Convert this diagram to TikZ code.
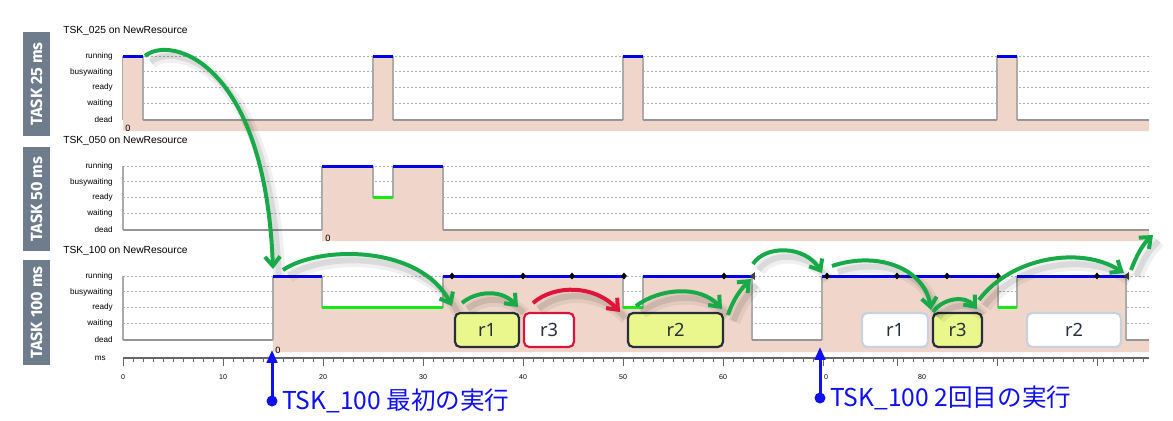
\documentclass[tikz,border=0pt]{standalone}
\usepackage{fontspec}
\setmainfont{Liberation Sans}
\newfontfamily\jpfont{Noto Sans CJK JP}
\newfontfamily\boxfont{Fira Sans}
\newfontfamily\resfont{Noto Sans}
\usetikzlibrary{positioning,calc,arrows.meta,shapes.geometric}
\definecolor{pinkfill}{RGB}{240,214,202}
\definecolor{taskgray}{RGB}{110,124,140}
\definecolor{runblue}{RGB}{0,0,230}
\definecolor{readygreen}{RGB}{20,235,20}
\definecolor{deadgray}{RGB}{150,150,150}
\definecolor{gridgray}{RGB}{175,175,175}
\definecolor{flowgreen}{RGB}{24,170,72}
\definecolor{flowred}{RGB}{222,20,58}
\definecolor{execblue}{RGB}{15,15,240}
\definecolor{resyellow}{RGB}{233,247,140}
\definecolor{resedge}{RGB}{38,46,58}
\definecolor{resred}{RGB}{220,20,60}
\definecolor{residle}{RGB}{200,210,222}

\begin{document}
\begin{tikzpicture}[x=0.025cm,y=-0.025cm,>={Straight Barb[length=2.3mm,width=3.8mm]},
task box/.style={rotate=90,fill=taskgray,text=white,minimum height=6.75mm,inner sep=0pt,
  font=\boxfont\bfseries\fontsize{11.5}{12}\selectfont},
panel title/.style={anchor=west,inner sep=0pt,font=\fontsize{7.3}{8}\selectfont},
state label/.style={anchor=east,inner sep=0pt,font=\fontsize{5.8}{6}\selectfont},
tick label/.style={inner sep=0pt,font=\fontsize{5}{6}\selectfont},
zero label/.style={anchor=west,inner sep=0pt,font=\fontsize{6.5}{7}\selectfont},
grid line/.style={draw=gridgray,line width=0.25mm,dash pattern=on 0.5mm off 0.5mm},
wave edge/.style={draw=deadgray!80,line width=0.3mm},
dead line/.style={draw=deadgray,line width=0.55mm},
run line/.style={draw=runblue,line width=0.75mm},
ready line/.style={draw=readygreen,line width=0.75mm},
res box/.style={rounded corners=1.3mm,draw=resedge,line width=0.55mm,fill=resyellow,
  minimum height=8.5mm,inner sep=0pt,text=resedge,font=\resfont\fontsize{13}{14}\selectfont},
res red/.style={res box,draw=resred,fill=white},
res idle/.style={res box,draw=residle,fill=white},
run mark/.style={diamond,fill=black,inner sep=0pt,minimum width=1.5mm,minimum height=1.8mm},
end mark/.style={isosceles triangle,shape border rotate=180,isosceles triangle stretches,
  fill=black!75,inner sep=0pt,minimum height=1.3mm,minimum width=2mm},
flow/.style={->,draw=flowgreen,line width=1mm,
  preaction={-,draw=black,opacity=0.06,line width=3mm,transform canvas={shift={(1.6mm,-1.7mm)}}},
  preaction={-,draw=black,opacity=0.09,line width=1.5mm,transform canvas={shift={(1.4mm,-1.5mm)}}}},
flow red/.style={flow,draw=flowred},
exec dot/.style={circle,fill=execblue,inner sep=0pt,minimum size=2.75mm},
exec pointer/.style={-{Triangle[length=3.2mm,width=2.6mm]},draw=execblue,line width=0.75mm},
exec text/.style={inner sep=0pt,text=execblue,font=\jpfont\fontsize{17.5}{18}\selectfont}]
\useasboundingbox (0,0) rectangle (1173,421);
\fill[white] (0,0) rectangle (1173,421);
% task boxes and titles
  \node[task box,minimum width=26mm] (box025) at (36.5,84) {TASK 25 ms};
  \node[task box,minimum width=26mm] (box050) at (36.5,199) {TASK 50 ms};
  \node[task box,minimum width=26.25mm] (box100) at (36.5,312.5) {TASK 100 ms};
  \node[panel title] (title025) at (63,31) {TSK\_025 on NewResource};
  \node[panel title] (title050) at (63,141) {TSK\_050 on NewResource};
  \node[panel title] (title100) at (63,251) {TSK\_100 on NewResource};
% state levels
  \foreach \R/\n in {56/a,166/b,276/c}{
    \foreach \lvl [count=\k from 0] in {running,busywaiting,ready,waiting,dead}
      \node[state label] (\n-\k) at (113,\R+\k*15.9) {\lvl};
    \foreach \k in {0,...,3}
      \draw[grid line] (123,\R+\k*15.9) -- (1149,\R+\k*15.9);
    \draw[wave edge] (123,\R) -- (123,\R+63.6);
  }
% TSK_025
  \fill[pinkfill] (123,56) -- (143,56) -- (143,119.6) -- (373,119.6) -- (373,56) -- (393,56)
    -- (393,119.6) -- (623,119.6) -- (623,56) -- (643,56) -- (643,119.6) -- (997,119.6)
    -- (997,56) -- (1017,56) -- (1017,119.6) -- (1149,119.6) -- (1149,131) -- (123,131) -- cycle;
  \draw[wave edge] (143,56) -- (143,119.6) (373,119.6) -- (373,56) (393,56) -- (393,119.6)
    (623,119.6) -- (623,56) (643,56) -- (643,119.6) (997,119.6) -- (997,56) (1017,56) -- (1017,119.6);
  \draw[dead line] (143,119.6) -- (373,119.6) (393,119.6) -- (623,119.6)
    (643,119.6) -- (997,119.6) (1017,119.6) -- (1149,119.6);
  \draw[run line] (123,56) -- (143,56) (373,56) -- (393,56) (623,56) -- (643,56) (997,56) -- (1017,56);
  \node[zero label] (zero025) at (125,128) {0};
% TSK_050
  \draw[dead line] (123,229.6) -- (322,229.6);
  \fill[pinkfill] (322,166) -- (373,166) -- (373,197.8) -- (393,197.8) -- (393,166) -- (443,166)
    -- (443,229.6) -- (1149,229.6) -- (1149,241) -- (322,241) -- cycle;
  \draw[wave edge] (322,229.6) -- (322,166) (373,166) -- (373,197.8) (393,197.8) -- (393,166)
    (443,166) -- (443,229.6);
  \draw[dead line] (443,229.6) -- (1149,229.6);
  \draw[run line] (322,166) -- (373,166) (393,166) -- (443,166);
  \draw[ready line] (373,197.8) -- (393,197.8);
  \node[zero label] (zero050) at (325,238) {0};
% TSK_100
  \draw[dead line] (123,339.6) -- (273,339.6);
  \fill[pinkfill] (273,276) -- (322,276) -- (322,307.8) -- (443,307.8) -- (443,276) -- (623,276)
    -- (623,307.8) -- (643,307.8) -- (643,276) -- (752,276) -- (752,339.6) -- (822,339.6)
    -- (822,276) -- (998,276) -- (998,307.8) -- (1017,307.8) -- (1017,276) -- (1126,276)
    -- (1126,339.6) -- (1149,339.6) -- (1149,352) -- (273,352) -- cycle;
  \draw[wave edge] (273,339.6) -- (273,276) (322,276) -- (322,307.8) (443,307.8) -- (443,276)
    (623,276) -- (623,307.8) (643,307.8) -- (643,276) (752,276) -- (752,339.6)
    (822,339.6) -- (822,276) (998,276) -- (998,307.8) (1017,307.8) -- (1017,276)
    (1126,276) -- (1126,339.6);
  \draw[dead line] (752,339.6) -- (822,339.6) (1126,339.6) -- (1149,339.6);
  \draw[run line] (273,276) -- (322,276) (443,276) -- (623,276) (643,276) -- (752,276)
    (822,276) -- (998,276) (1017,276) -- (1126,276);
  \draw[ready line] (322,307.8) -- (443,307.8) (623,307.8) -- (643,307.8) (998,307.8) -- (1017,307.8);
  \node[zero label] (zero100) at (275,350) {0};
  \foreach \x [count=\i] in {452,523,572,624,724,827,897,947,998,1097}
    \node[run mark] (m\i) at (\x,276) {};
  \node[end mark] (e1) at (753,276) {};
  \node[end mark] (e2) at (1127,276) {};
% resources
  \node[res box,minimum width=16mm] (r1a) at (487,330) {r1};
  \node[res red,minimum width=12.5mm] (r3a) at (549,330) {r3};
  \node[res box,minimum width=23.75mm] (r2a) at (675.5,330) {r2};
  \node[res idle,minimum width=16.5mm] (r1b) at (895,330) {r1};
  \node[res box,minimum width=12.25mm] (r3b) at (957.5,330) {r3};
  \node[res idle,minimum width=23.5mm] (r2b) at (1074,330) {r2};
% time axis
  \draw[draw=black!60,line width=0.3mm] (123,358) -- (1149,358);
  \foreach \x in {123,133,...,1143}
    \draw[draw=black!60,line width=0.25mm] (\x,358) -- (\x,362);
  \foreach \x in {123,223,...,823,897,997,1097}
    \draw[draw=black!60,line width=0.25mm] (\x,358) -- (\x,366);
  \foreach \v [count=\i from 0] in {0,10,...,60}
    \node[tick label] (tk\i) at (123+\i*100,377) {\v};
  \node[tick label] (tk7) at (826,377) {0};
  \node[tick label] (tk8) at (922,377) {80};
  \node[state label] (unit) at (106,358) {ms};
% flow coordinates
  \coordinate (f1s) at (145,56);    \coordinate (f1e) at (273,269);
  \coordinate (f2s) at (283,270);   \coordinate (f2e) at (452,306);
  \coordinate (f3s) at (462,303);   \coordinate (f3e) at (518,307);
  \coordinate (f4s) at (533,303);   \coordinate (f4e) at (620,312);
  \coordinate (f5s) at (636,306);   \coordinate (f5e) at (722,309);
  \coordinate (f6s) at (728,315);   \coordinate (f6e) at (751,279);
  \coordinate (f7s) at (753,264);   \coordinate (f7e) at (822,273);
  \coordinate (f8s) at (832,266);   \coordinate (f8e) at (931,310);
  \coordinate (f9s) at (933,312);   \coordinate (f9e) at (977,309);
  \coordinate (f10s) at (979,300);  \coordinate (f10e) at (1124,273);
  \coordinate (f11s) at (1131,270); \coordinate (f11e) at (1153,235);
% flows
  \draw[flow] (f1s) .. controls (170,35) and (265,60) .. (f1e);
  \draw[flow] (f2s) .. controls (320,245) and (420,245) .. (f2e);
  \draw[flow] (f3s) .. controls (475,292) and (500,288) .. (f3e);
  \draw[flow red] (f4s) .. controls (555,284) and (595,285) .. (f4e);
  \draw[flow] (f5s) .. controls (660,288) and (700,285) .. (f5e);
  \draw[flow] (f6s) .. controls (733,300) and (740,290) .. (f6e);
  \draw[flow] (f7s) .. controls (765,245) and (805,245) .. (f7e);
  \draw[flow] (f8s) .. controls (880,250) and (925,270) .. (f8e);
  \draw[flow] (f9s) .. controls (943,298) and (965,295) .. (f9e);
  \draw[flow] (f10s) .. controls (1010,258) and (1080,245) .. (f10e);
  \draw[flow] (f11s) .. controls (1136,257) and (1142,245) .. (f11e);
% executions
  \node[exec dot] (d1) at (272,401) {};
  \coordinate (p1) at (272,350);
  \draw[exec pointer] (d1.center) -- (p1);
  \node[exec text,anchor=west,right=1mm of d1] (t1) {TSK\_100 最初の実行};
  \node[exec dot] (d2) at (820,398) {};
  \coordinate (p2) at (820,347);
  \draw[exec pointer] (d2.center) -- (p2);
  \node[exec text,anchor=west,right=1mm of d2] (t2) {TSK\_100 2回目の実行};
\end{tikzpicture}
\end{document}
